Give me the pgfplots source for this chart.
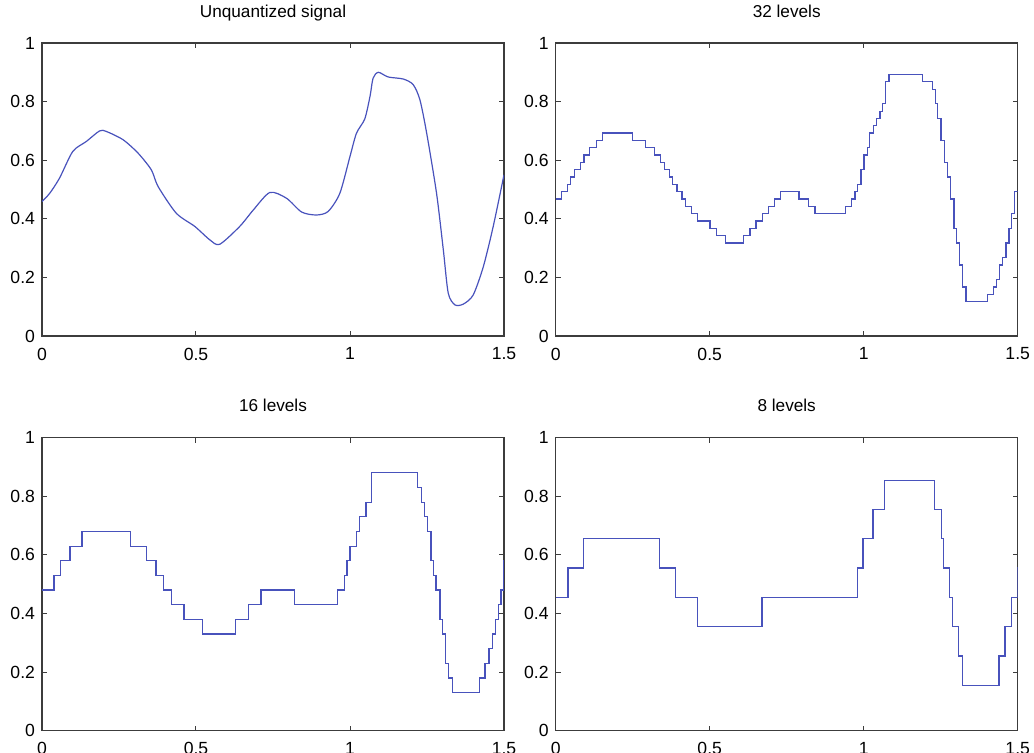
\documentclass[border=0pt]{standalone}
\usepackage{pgfplots}
\pgfplotsset{compat=1.18}
\usepackage{fontspec}
\setmainfont{Liberation Sans}
\definecolor{sig}{RGB}{72,82,188}
\definecolor{frame}{RGB}{60,60,60}
\pgfplotsset{
  panel/.style={
    scale only axis, width=231pt, height=146.5pt,
    xmin=0, xmax=1.5, ymin=0, ymax=1,
    xtick={0,0.5,1,1.5}, ytick={0,0.2,0.4,0.6,0.8,1},
    xticklabels={0,0.5,1,1.5}, yticklabels={0,0.2,0.4,0.6,0.8,1},
    tick align=inside, tick pos=both, major tick length=2.5pt,
    axis line style={frame, line width=0.65pt},
    tick style={frame, line width=0.5pt},
    every tick label/.append style={font=\fontsize{8.8}{10}\selectfont, text=black},
    xticklabel style={yshift=-2.4pt},
    /pgf/number format/assume math mode=true,
    title style={at={(0.5,1)}, anchor=base, yshift=6.9pt, font=\fontsize{8.6}{10}\selectfont},
  },
  sigline/.style={sig, line width=0.6pt},
}
\begin{document}
\begin{tikzpicture}
\useasboundingbox (-21pt,21.5pt) rectangle (496pt,-355pt);
% Unquantized
\begin{axis}[panel, at={(0pt,0pt)}, anchor=north west, title={Unquantized signal}]
\addplot[sigline, smooth, tension=0.45] coordinates {
(0,0.459)(0.025,0.487)(0.057,0.539)(0.100,0.630)(0.144,0.664)(0.187,0.700)(0.209,0.698)
(0.263,0.670)(0.312,0.624)(0.355,0.567)(0.377,0.510)(0.436,0.419)(0.496,0.374)(0.545,0.328)
(0.577,0.313)(0.642,0.374)(0.686,0.430)(0.740,0.490)(0.794,0.470)(0.843,0.423)(0.891,0.413)
(0.929,0.425)(0.967,0.487)(1.000,0.613)(1.021,0.692)(1.048,0.741)(1.065,0.818)(1.075,0.880)
(1.092,0.900)(1.124,0.884)(1.173,0.877)(1.205,0.858)(1.227,0.806)(1.249,0.692)(1.281,0.487)
(1.303,0.294)(1.319,0.146)(1.341,0.106)(1.368,0.109)(1.400,0.140)(1.433,0.237)(1.465,0.374)(1.5,0.550)};
\end{axis}
% 32 levels
\begin{axis}[panel, at={(256.85pt,0pt)}, anchor=north west, title={32 levels}]
\addplot[sigline, const plot] coordinates {
(0,0.4675)(0.018,0.4925)(0.038,0.5175)(0.049,0.5425)(0.062,0.5675)(0.080,0.5925)(0.092,0.6175)
(0.110,0.6425)(0.132,0.6675)(0.151,0.6925)(0.249,0.6675)(0.291,0.6425)(0.321,0.6175)(0.341,0.5925)
(0.352,0.5675)(0.370,0.5425)(0.379,0.5175)(0.394,0.4925)(0.410,0.4675)(0.422,0.4425)(0.440,0.4175)
(0.460,0.3925)(0.501,0.3675)(0.521,0.3425)(0.552,0.3175)(0.611,0.3425)(0.631,0.3675)(0.650,0.3925)
(0.671,0.4175)(0.692,0.4425)(0.711,0.4675)(0.731,0.4925)(0.790,0.4675)(0.822,0.4425)(0.842,0.4175)
(0.942,0.4425)(0.961,0.4675)(0.972,0.4925)(0.980,0.5175)(0.991,0.5675)(1.001,0.6175)(1.012,0.6425)
(1.020,0.6925)(1.031,0.7175)(1.042,0.7425)(1.053,0.7675)(1.062,0.7925)(1.072,0.8675)(1.082,0.8925)
(1.192,0.8675)(1.223,0.8425)(1.232,0.7925)(1.240,0.7425)(1.251,0.6675)(1.262,0.5925)(1.271,0.5425)
(1.282,0.4675)(1.293,0.3675)(1.302,0.3175)(1.312,0.2425)(1.321,0.1675)(1.332,0.1175)(1.401,0.1425)
(1.421,0.1675)(1.432,0.1925)(1.440,0.2425)(1.451,0.2675)(1.462,0.3175)(1.472,0.3675)(1.480,0.4175)
(1.489,0.4925)(1.5,0.4925)};
\end{axis}
% 16 levels
\begin{axis}[panel, at={(0pt,-197.35pt)}, anchor=north west, title={16 levels}]
\addplot[sigline, const plot] coordinates {
(0,0.48)(0.039,0.53)(0.061,0.58)(0.091,0.63)(0.130,0.68)(0.288,0.63)(0.340,0.58)(0.370,0.53)
(0.394,0.48)(0.421,0.43)(0.461,0.38)(0.521,0.33)(0.629,0.38)(0.670,0.43)(0.711,0.48)(0.821,0.43)
(0.960,0.48)(0.981,0.53)(0.990,0.58)(1.000,0.63)(1.022,0.68)(1.030,0.73)(1.052,0.78)(1.070,0.88)
(1.220,0.83)(1.233,0.78)(1.243,0.73)(1.252,0.68)(1.263,0.58)(1.271,0.53)(1.279,0.48)(1.292,0.38)
(1.300,0.33)(1.311,0.23)(1.321,0.18)(1.332,0.13)(1.420,0.18)(1.438,0.23)(1.451,0.28)(1.463,0.33)
(1.473,0.38)(1.482,0.43)(1.490,0.48)(1.498,0.58)(1.5,0.58)};
\end{axis}
% 8 levels
\begin{axis}[panel, at={(256.85pt,-197.35pt)}, anchor=north west, title={8 levels}]
\addplot[sigline, const plot] coordinates {
(0,0.455)(0.040,0.555)(0.089,0.655)(0.338,0.555)(0.390,0.455)(0.460,0.355)(0.670,0.455)
(0.980,0.555)(0.998,0.655)(1.030,0.755)(1.068,0.855)(1.231,0.755)(1.252,0.655)(1.260,0.555)
(1.279,0.455)(1.288,0.355)(1.309,0.255)(1.320,0.155)(1.439,0.255)(1.459,0.355)(1.481,0.455)
(1.499,0.555)(1.5,0.555)};
\end{axis}
\end{tikzpicture}
\end{document}
